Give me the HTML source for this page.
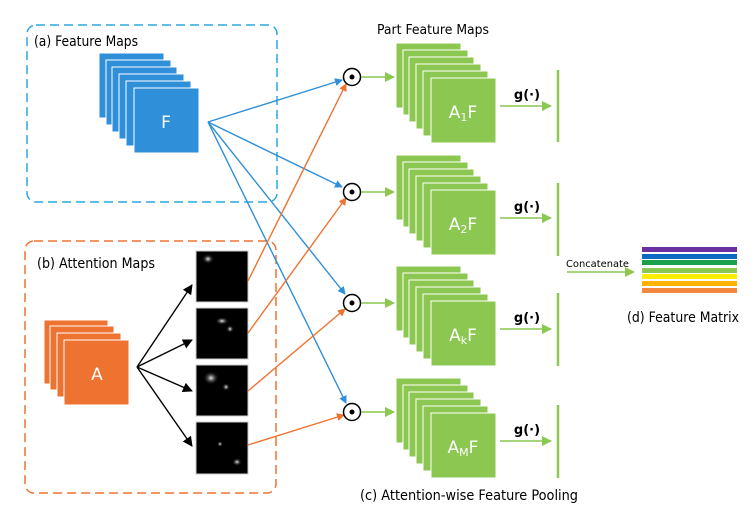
<!DOCTYPE html>
<html><head><meta charset="utf-8"><style>
html,body{margin:0;padding:0;background:#fff}
svg{display:block;font-family:"DejaVu Sans","Liberation Sans",sans-serif}
</style></head><body>
<svg width="756" height="522" viewBox="0 0 756 522" xmlns="http://www.w3.org/2000/svg">
<defs>
<marker id="ab" markerWidth="8" markerHeight="8" refX="7" refY="4" orient="auto" markerUnits="userSpaceOnUse"><path d="M0,0 L8,4 L0,8 z" fill="#2f8fd8"/></marker>
<marker id="ao" markerWidth="8" markerHeight="8" refX="7" refY="4" orient="auto" markerUnits="userSpaceOnUse"><path d="M0,0 L8,4 L0,8 z" fill="#ee7330"/></marker>
<marker id="ak" markerWidth="10" markerHeight="10" refX="9" refY="5" orient="auto" markerUnits="userSpaceOnUse"><path d="M0,0 L10,5 L0,10 z" fill="#000"/></marker>
<marker id="ag" markerWidth="10" markerHeight="10" refX="9" refY="5" orient="auto" markerUnits="userSpaceOnUse"><path d="M0,0 L10,5 L0,10 z" fill="#8cc751"/></marker>
<radialGradient id="spot"><stop offset="0" stop-color="#eee"/><stop offset="1" stop-color="#000" stop-opacity="0"/></radialGradient>
<g id="gs">
<rect x="0" y="0" width="65" height="65" fill="#8cc751" stroke="#fff" stroke-width="1"/>
<rect x="7" y="7" width="65" height="65" fill="#8cc751" stroke="#fff" stroke-width="1"/>
<rect x="13" y="14" width="65" height="65" fill="#8cc751" stroke="#fff" stroke-width="1"/>
<rect x="20" y="21" width="65" height="65" fill="#8cc751" stroke="#fff" stroke-width="1"/>
<rect x="27" y="28" width="65" height="65" fill="#8cc751" stroke="#fff" stroke-width="1"/>
<rect x="35" y="35" width="65" height="65" fill="#8cc751" stroke="#fff" stroke-width="1"/>
</g>
</defs>

<rect x="27" y="25" width="250" height="177" rx="9" fill="none" stroke="#29a8e0" stroke-width="1.5" stroke-dasharray="9,5"/>
<text x="34" y="46" font-size="14" fill="#000" font-weight="500" textLength="104" lengthAdjust="spacingAndGlyphs">(a) Feature Maps</text>
<g fill="#2f8fd8" stroke="#fff" stroke-width="1">
<rect x="99" y="53" width="65" height="65"/><rect x="106" y="60" width="65" height="65"/><rect x="112" y="67" width="65" height="65"/><rect x="119" y="74" width="65" height="65"/><rect x="126" y="81" width="65" height="65"/><rect x="134" y="88" width="65" height="65"/>
</g>
<text x="166" y="128" font-size="17" fill="#fff" text-anchor="middle">F</text>

<rect x="25" y="241" width="251" height="252" rx="9" fill="none" stroke="#ee7330" stroke-width="1.5" stroke-dasharray="9,5"/>
<text x="37" y="268" font-size="14" fill="#000" textLength="118" lengthAdjust="spacingAndGlyphs">(b) Attention Maps</text>
<g fill="#ee7330" stroke="#fff" stroke-width="1">
<rect x="44" y="320" width="64" height="64"/><rect x="50" y="326" width="64" height="64"/><rect x="57" y="333" width="64" height="64"/><rect x="64" y="340" width="65" height="65"/>
</g>
<text x="97" y="380" font-size="17" fill="#fff" text-anchor="middle">A</text>

<g stroke="#000" stroke-width="1.4" marker-end="url(#ak)">
<line x1="137" y1="367" x2="192" y2="285"/><line x1="137" y1="367" x2="192" y2="340"/><line x1="137" y1="367" x2="192" y2="391"/><line x1="137" y1="367" x2="192" y2="446"/>
</g>
<g stroke="#ccc" stroke-width="1">
<rect x="196" y="251" width="52" height="51" fill="#000"/><rect x="196" y="308" width="52" height="51" fill="#000"/><rect x="196" y="365" width="52" height="51" fill="#000"/><rect x="196" y="422" width="52" height="52" fill="#000"/>
</g>
<g fill="url(#spot)">
<ellipse cx="208" cy="259" rx="6" ry="5"/><ellipse cx="222" cy="321" rx="7" ry="4"/><ellipse cx="230" cy="329" rx="4" ry="4"/><ellipse cx="211" cy="378" rx="8" ry="7"/><ellipse cx="226" cy="387" rx="4" ry="4"/><ellipse cx="220" cy="444" rx="3" ry="3"/><ellipse cx="237" cy="462" rx="5" ry="4"/>
</g>

<g stroke="#2f8fd8" stroke-width="1.4" marker-end="url(#ab)">
<line x1="208" y1="122" x2="342" y2="80"/><line x1="208" y1="122" x2="342" y2="187"/><line x1="208" y1="122" x2="345" y2="294"/><line x1="208" y1="122" x2="346" y2="403"/>
</g>
<g stroke="#ee7330" stroke-width="1.4" marker-end="url(#ao)">
<line x1="248" y1="281" x2="346" y2="84"/><line x1="248" y1="333" x2="346" y2="198"/><line x1="248" y1="391" x2="345" y2="309"/><line x1="248" y1="445" x2="344" y2="415"/>
</g>

<g stroke="#000" stroke-width="1.5" fill="#fff">
<circle cx="352" cy="77" r="8.5"/><circle cx="352" cy="192" r="8.5"/><circle cx="352" cy="303" r="8.5"/><circle cx="352" cy="412" r="8.5"/>
</g>
<g fill="#000"><circle cx="352" cy="77" r="2.5"/><circle cx="352" cy="192" r="2.5"/><circle cx="352" cy="303" r="2.5"/><circle cx="352" cy="412" r="2.5"/></g>

<g stroke="#8cc751" stroke-width="1.4" marker-end="url(#ag)">
<line x1="361" y1="77" x2="394" y2="77"/><line x1="361" y1="192" x2="394" y2="192"/><line x1="361" y1="303" x2="394" y2="303"/><line x1="361" y1="412" x2="394" y2="412"/>
<line x1="500" y1="106" x2="551" y2="106"/><line x1="500" y1="218" x2="551" y2="218"/><line x1="500" y1="329" x2="551" y2="329"/><line x1="500" y1="441" x2="551" y2="441"/>
<line x1="567" y1="272" x2="634" y2="272"/>
</g>

<text x="433" y="34" font-size="13" fill="#000" text-anchor="middle" textLength="112" lengthAdjust="spacingAndGlyphs">Part Feature Maps</text>
<use href="#gs" x="396" y="43"/>
<use href="#gs" x="396" y="155"/>
<use href="#gs" x="396" y="266"/>
<use href="#gs" x="396" y="378"/>
<g font-size="17" fill="#fff" text-anchor="middle">
<text x="463" y="118">A<tspan font-size="11" dy="3">1</tspan><tspan dy="-3">F</tspan></text>
<text x="463" y="230">A<tspan font-size="11" dy="3">2</tspan><tspan dy="-3">F</tspan></text>
<text x="463" y="341">A<tspan font-size="11" dy="3">k</tspan><tspan dy="-3">F</tspan></text>
<text x="463" y="453">A<tspan font-size="11" dy="3">M</tspan><tspan dy="-3">F</tspan></text>
</g>
<g font-size="13" fill="#000" font-weight="bold" text-anchor="middle">
<text x="527" y="99">g(·)</text><text x="527" y="211">g(·)</text><text x="527" y="322">g(·)</text><text x="527" y="434">g(·)</text>
</g>
<g stroke="#8cc751" stroke-width="2.5">
<line x1="558" y1="70" x2="558" y2="142"/><line x1="558" y1="183" x2="558" y2="256"/><line x1="558" y1="293" x2="558" y2="366"/><line x1="558" y1="405" x2="558" y2="478"/>
</g>

<text x="566" y="267" font-size="10" fill="#000" font-weight="500" textLength="63" lengthAdjust="spacingAndGlyphs">Concatenate</text>
<g>
<rect x="642" y="247" width="95" height="5" fill="#6a2fa0"/>
<rect x="642" y="254" width="95" height="5" fill="#0a6bc0"/>
<rect x="642" y="260" width="95" height="5" fill="#1aa04a"/>
<rect x="642" y="268" width="95" height="5" fill="#8cc751"/>
<rect x="642" y="274" width="95" height="5" fill="#ffee00"/>
<rect x="642" y="281" width="95" height="5" fill="#ffb300"/>
<rect x="642" y="288" width="95" height="5" fill="#f4873f"/>
</g>
<text x="627" y="322" font-size="14" fill="#000" textLength="112" lengthAdjust="spacingAndGlyphs">(d) Feature Matrix</text>
<text x="469" y="500" font-size="14" fill="#000" text-anchor="middle" textLength="218" lengthAdjust="spacingAndGlyphs">(c) Attention-wise Feature Pooling</text>
</svg>
</body></html>
